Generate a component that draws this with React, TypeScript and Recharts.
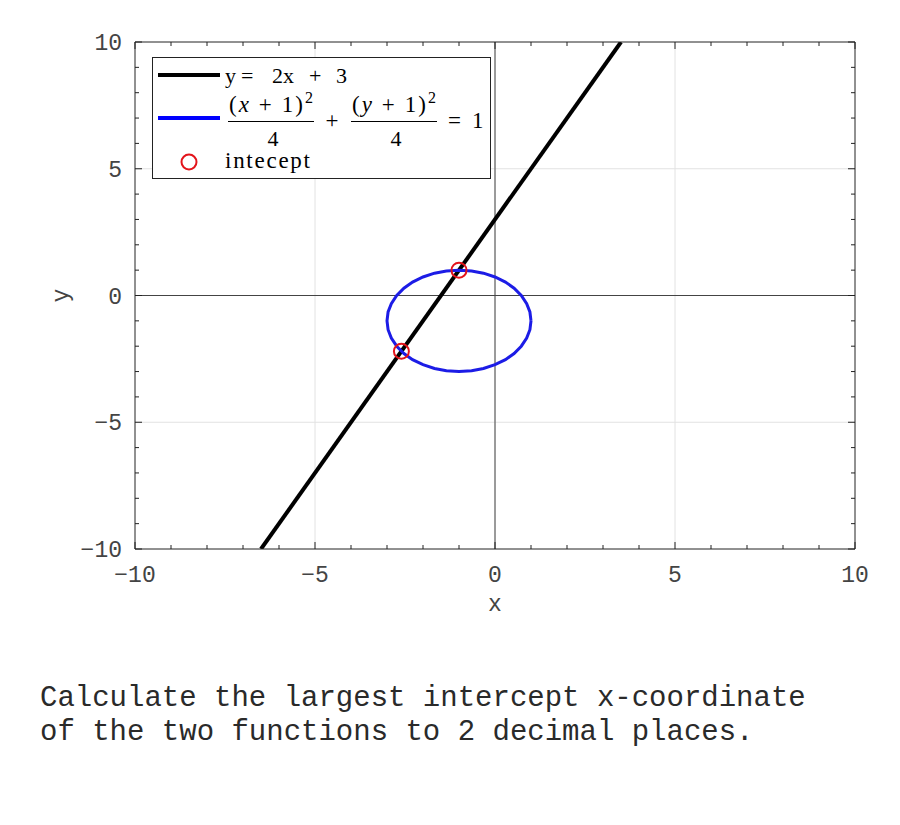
import React from 'react';
import {
  ComposedChart, Line, Scatter, XAxis, YAxis, CartesianGrid,
  ReferenceLine, Legend, Label
} from 'recharts';

// tick positions (every unit) and the labelled ones
const axisTicks = [-10, -9, -8, -7, -6, -5, -4, -3, -2, -1, 0, 1, 2, 3, 4, 5, 6, 7, 8, 9, 10];
const gridValues = [-5, 0, 5];

// y = 2x + 3, clipped to the plot box
const lineX = [-6.5, 3.5];
const lineY = [-10, 10];

// (x+1)^2/4 + (y+1)^2/4 = 1, points read round the curve
const circleX = [1, 0.97, 0.88, 0.73, 0.53, 0.29, 0, -0.32, -0.65, -1, -1.35, -1.68, -2, -2.29, -2.53, -2.73, -2.88, -2.97,
  -3, -2.97, -2.88, -2.73, -2.53, -2.29, -2, -1.68, -1.35, -1, -0.65, -0.32, 0, 0.29, 0.53, 0.73, 0.88, 0.97, 1];
const circleY = [-1, -0.65, -0.32, 0, 0.29, 0.53, 0.73, 0.88, 0.97, 1, 0.97, 0.88, 0.73, 0.53, 0.29, 0, -0.32, -0.65,
  -1, -1.35, -1.68, -2, -2.29, -2.53, -2.73, -2.88, -2.97, -3, -2.97, -2.88, -2.73, -2.53, -2.29, -2, -1.68, -1.35, -1];

// intersection points
const interceptX = [-2.6, -1];
const interceptY = [-2.2, 1];

const lineData = lineX.map((x, i) => ({ x, y: lineY[i] }));
const circleData = circleX.map((x, i) => ({ x, y: circleY[i] }));
const interceptData = interceptX.map((x, i) => ({ x, y: interceptY[i] }));

const MONO = '"Liberation Mono", "DejaVu Sans Mono", monospace';
const SERIF = '"Liberation Serif", "DejaVu Serif", serif';
const TICK_COLOR = '#222';
const LABEL_COLOR = '#444';

const tickLen = (v: number) => (v % 5 === 0 ? 7 : 4);
const fmt = (v: number) => (v < 0 ? `\u2212${-v}` : `${v}`);

const BottomTick = ({ x, y, payload }: any) => {
  const v = payload.value;
  return (
    <g>
      <line x1={x} y1={y} x2={x} y2={y - tickLen(v)} stroke={TICK_COLOR} />
      {v % 5 === 0 && (
        <text x={x} y={y + 33} textAnchor="middle" fontFamily={MONO} fontSize={23} fill={LABEL_COLOR}>{fmt(v)}</text>
      )}
    </g>
  );
};

const LeftTick = ({ x, y, payload }: any) => {
  const v = payload.value;
  return (
    <g>
      <line x1={x} y1={y} x2={x + tickLen(v)} y2={y} stroke={TICK_COLOR} />
      {v % 5 === 0 && (
        <text x={x - 13} y={y + 8} textAnchor="end" fontFamily={MONO} fontSize={23} fill={LABEL_COLOR}>{fmt(v)}</text>
      )}
    </g>
  );
};

const TopTick = ({ x, y, payload }: any) => (
  <line x1={x} y1={y} x2={x} y2={y + tickLen(payload.value)} stroke={TICK_COLOR} />
);

const RightTick = ({ x, y, payload }: any) => (
  <line x1={x} y1={y} x2={x - tickLen(payload.value)} y2={y} stroke={TICK_COLOR} />
);

const InterceptDot = ({ cx, cy }: any) => (
  <circle cx={cx} cy={cy} r={7.5} fill="none" stroke="#e3141b" strokeWidth={2} />
);

const Fraction = ({ cx, left, right, v }: { cx: number; left: number; right: number; v: string }) => (
  <g>
    <text x={cx} y={55} textAnchor="middle" fontFamily={SERIF} fontSize={23} textLength={right - left - 2}
      style={{ whiteSpace: 'pre' }}>
      <tspan>(</tspan>
      <tspan fontStyle="italic">{v}</tspan>
      <tspan> + 1)</tspan>
      <tspan dy={-9} fontSize={16}>2</tspan>
    </text>
    <line x1={left} y1={64.5} x2={right} y2={64.5} stroke="#000" strokeWidth={1.2} />
    <text x={cx + 2} y={89} textAnchor="middle" fontFamily={SERIF} fontSize={22}>4</text>
  </g>
);

const LegendBox = () => (
  <svg width={340} height={123} style={{ display: 'block' }}>
    <rect x={0.5} y={0.5} width={338} height={121} fill="#fff" stroke="#222" />
    <line x1={6} y1={18} x2={68} y2={18} stroke="#000" strokeWidth={4} />
    <text y={26} fontFamily={SERIF} fontSize={22}>
      <tspan x={73}>y</tspan>
      <tspan x={89}>=</tspan>
      <tspan x={120}>2x</tspan>
      <tspan x={157}>+</tspan>
      <tspan x={184}>3</tspan>
    </text>
    <line x1={6} y1={61} x2={68} y2={61} stroke="#0000ff" strokeWidth={4} />
    <Fraction cx={119} left={76} right={162} v="x" />
    <text x={180} y={71} textAnchor="middle" fontFamily={SERIF} fontSize={23}>+</text>
    <Fraction cx={242} left={199} right={285} v="y" />
    <text y={71} fontFamily={SERIF} fontSize={23}>
      <tspan x={296}>=</tspan>
      <tspan x={320}>1</tspan>
    </text>
    <circle cx={37} cy={105} r={7.5} fill="none" stroke="#e3141b" strokeWidth={2} />
    <text x={73} y={111} fontFamily={SERIF} fontSize={23} textLength={85}>intecept</text>
  </svg>
);

export default function App() {
  return (
    <div style={{ position: 'absolute', left: 0, top: 0, width: 900, height: 825, background: '#fff' }}>
      <ComposedChart width={900} height={640} margin={{ top: 0, right: 0, bottom: 31, left: 0 }}>
        <CartesianGrid stroke="#e2e2e2" verticalValues={gridValues} horizontalValues={gridValues} />
        <XAxis
          type="number" dataKey="x" domain={[-10, 10]} ticks={axisTicks} interval={0} allowDataOverflow
          height={60} tickSize={0} tickMargin={0} tickLine={false} tick={BottomTick}
          axisLine={{ stroke: '#222' }}
        >
          <Label content={({ viewBox }: any) => (
            <text x={viewBox.x + viewBox.width / 2} y={viewBox.y + 62} textAnchor="middle"
              fontFamily={MONO} fontSize={23} fill={LABEL_COLOR}>x</text>
          )} />
        </XAxis>
        <XAxis
          xAxisId="t" orientation="top" type="number" dataKey="x" domain={[-10, 10]} ticks={axisTicks} interval={0}
          allowDataOverflow height={42} tickSize={0} tickMargin={0} tickLine={false} tick={TopTick}
          axisLine={{ stroke: '#222' }}
        />
        <YAxis
          type="number" dataKey="y" domain={[-10, 10]} ticks={axisTicks} interval={0} allowDataOverflow
          width={135} tickSize={0} tickMargin={0} tickLine={false} tick={LeftTick}
          axisLine={{ stroke: '#222' }}
        >
          <Label content={({ viewBox }: any) => {
            const cy = viewBox.y + viewBox.height / 2;
            return (
              <text x={62} y={cy} transform={`rotate(-90 62 ${cy})`} textAnchor="middle" dominantBaseline="central"
                fontFamily={MONO} fontSize={23} fill={LABEL_COLOR}>y</text>
            );
          }} />
        </YAxis>
        <YAxis
          yAxisId="r" orientation="right" type="number" dataKey="y" domain={[-10, 10]} ticks={axisTicks} interval={0}
          allowDataOverflow width={45} tickSize={0} tickMargin={0} tickLine={false} tick={RightTick}
          axisLine={{ stroke: '#222' }}
        />
        <ReferenceLine x={0} stroke="#444" />
        <ReferenceLine y={0} stroke="#444" />
        <Line
          data={lineData} dataKey="y" type="linear" stroke="#000" strokeWidth={4}
          dot={false} activeDot={false} isAnimationActive={false} name="y = 2x + 3"
        />
        <Line
          data={circleData} dataKey="y" type="linear" stroke="#1c1ce6" strokeWidth={3}
          dot={false} activeDot={false} isAnimationActive={false} name="ellipse"
        />
        <Scatter
          data={interceptData} dataKey="y" shape={InterceptDot} isAnimationActive={false} name="intecept"
        />
        <Legend
          layout="vertical" align="center" verticalAlign="middle"
          wrapperStyle={{ position: 'absolute', left: 152, top: 57, width: 340, height: 123, margin: 0, padding: 0 }}
          content={() => <LegendBox />}
        />
      </ComposedChart>
      <svg width={900} height={185} style={{ position: 'absolute', left: 0, top: 640 }}>
        <text x={40} y={66} fontFamily={MONO} fontSize={29} fill="#2a2a2a" style={{ whiteSpace: 'pre' }}>
          Calculate the largest intercept x-coordinate
        </text>
        <text x={40} y={100} fontFamily={MONO} fontSize={29} fill="#2a2a2a" style={{ whiteSpace: 'pre' }}>
          of the two functions to 2 decimal places.
        </text>
      </svg>
    </div>
  );
}
